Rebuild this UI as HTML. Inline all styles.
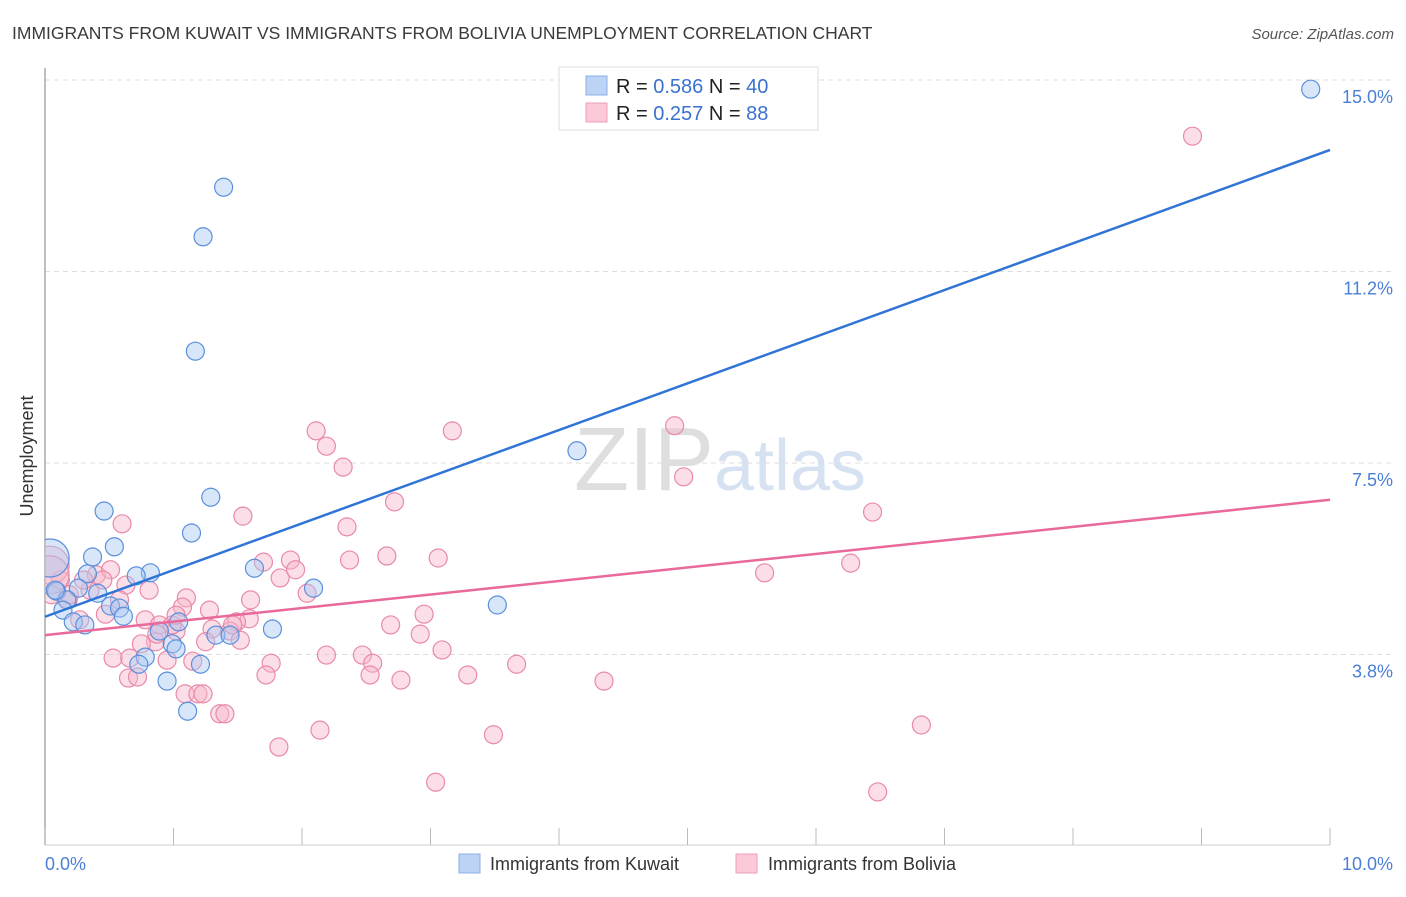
<!DOCTYPE html>
<html><head><meta charset="utf-8"><style>
body{margin:0;background:#fff;font-family:"Liberation Sans",sans-serif;}
svg text{font-family:"Liberation Sans",sans-serif;}
</style></head><body>
<svg id="chart" width="1406" height="892" viewBox="0 0 1406 892" xmlns="http://www.w3.org/2000/svg">
<text x="12" y="39" font-size="17.5" fill="#3a3a3a">IMMIGRANTS FROM KUWAIT VS IMMIGRANTS FROM BOLIVIA UNEMPLOYMENT CORRELATION CHART</text>
<text x="1394" y="39" font-size="15" fill="#555" font-style="italic" text-anchor="end">Source: ZipAtlas.com</text>
<text x="720" y="490" font-size="90" fill="#e8e8e8" text-anchor="middle" font-family="Liberation Serif"><tspan fill="#dedede">ZIP</tspan><tspan fill="#d6e2f2" font-family="Liberation Sans" font-size="72">atlas</tspan></text>
<g id="grid"></g>
<line x1="45" y1="68" x2="45" y2="845" stroke="#aaa" stroke-width="1.5"/>
<line x1="45" y1="845" x2="1330" y2="845" stroke="#ccc" stroke-width="1"/>
<g id="xticks"></g>
<text transform="translate(33,456) rotate(-90)" font-size="18" fill="#333" text-anchor="middle">Unemployment</text>
<text x="45" y="870" font-size="18" fill="#4a7fd6">0.0%</text>
<text x="1393" y="870" font-size="18" fill="#4a7fd6" text-anchor="end">10.0%</text>
<defs><clipPath id="plotclip"><rect x="45" y="60" width="1300" height="785"/></clipPath></defs>
<g id="points" clip-path="url(#plotclip)"></g>
<g id="lines"></g>
<g>
<rect x="559" y="67" width="259" height="63" fill="#fff" stroke="#ddd"/>
<rect x="586" y="76" width="21" height="19" fill="#bcd3f5" stroke="#8ab0e8"/>
<rect x="586" y="103" width="21" height="19" fill="#fbc9d8" stroke="#ee9fb8"/>
<text x="616" y="93" font-size="20" fill="#222">R = <tspan fill="#3a72d0">0.586</tspan>   N = <tspan fill="#3a72d0">40</tspan></text>
<text x="616" y="120" font-size="20" fill="#222">R = <tspan fill="#3a72d0">0.257</tspan>   N = <tspan fill="#3a72d0"> 88</tspan></text>
</g>
<g>
<rect x="459" y="854" width="21" height="19" fill="#bcd3f5" stroke="#8ab0e8"/>
<text x="490" y="870" font-size="18" fill="#333">Immigrants from Kuwait</text>
<rect x="736" y="854" width="21" height="19" fill="#fbc9d8" stroke="#ee9fb8"/>
<text x="768" y="870" font-size="18" fill="#333">Immigrants from Bolivia</text>
</g>
</svg>
<script>
const yTicks=[15.0,11.25,7.5,3.75];
const yTickLabels=["15.0%","11.2%","7.5%","3.8%"];
const xTicks=[0,1,2,3,4,5,6,7,8,9,10];
const kuwaitX=[9.85,1.39,1.23,1.17,4.14,1.29,0.46,1.14,0.54,0.37,1.63,0.82,0.71,0.33,2.09,0.26,0.09,0.41,0.17,3.52,0.51,0.58,0.61,0.14,0.22,0.31,1.04,0.89,1.77,1.33,1.44,0.99,1.02,0.78,0.73,1.21,0.95,1.11,0.04,0.08];
const kuwaitY=[14.82,12.90,11.93,9.69,7.74,6.83,6.56,6.13,5.86,5.66,5.44,5.35,5.29,5.33,5.05,5.05,4.99,4.95,4.82,4.72,4.70,4.66,4.50,4.62,4.39,4.33,4.39,4.21,4.25,4.13,4.13,3.96,3.86,3.70,3.56,3.56,3.23,2.64,5.64,5.01];
const boliviaX=[8.93,4.90,2.11,3.17,2.19,4.97,2.32,2.72,6.44,0.60,1.54,2.35,1.70,1.91,2.37,2.66,3.06,5.60,6.27,0.40,1.83,0.51,0.63,0.81,0.12,0.05,0.18,2.04,1.10,1.07,1.28,0.47,0.27,0.78,2.95,1.59,1.49,2.69,0.89,1.02,1.30,1.44,2.92,0.86,0.75,1.25,0.87,2.19,3.09,2.47,2.55,1.76,3.67,0.53,0.66,0.95,1.15,1.72,2.53,2.77,3.29,4.35,0.65,0.72,1.09,1.19,1.23,1.36,1.40,6.82,2.14,3.49,1.82,3.04,6.48,0.04,0.04,0.19,0.35,0.30,0.45,0.58,1.60,1.46,0.99,1.95,1.52,1.02];
const boliviaY=[13.90,8.23,8.13,8.13,7.83,7.23,7.42,6.74,6.54,6.31,6.46,6.25,5.56,5.60,5.60,5.68,5.64,5.35,5.54,5.31,5.25,5.41,5.11,5.01,5.21,4.92,4.82,4.95,4.86,4.68,4.62,4.54,4.43,4.43,4.54,4.45,4.39,4.33,4.33,4.21,4.25,4.21,4.15,4.00,3.96,4.00,4.15,3.74,3.84,3.74,3.58,3.58,3.56,3.68,3.68,3.64,3.62,3.35,3.35,3.25,3.35,3.23,3.29,3.31,2.98,2.98,2.98,2.59,2.59,2.37,2.27,2.18,1.94,1.25,1.06,5.50,5.31,4.92,5.01,5.21,5.21,4.82,4.82,4.33,4.33,5.41,4.03,4.52];
const kuwaitTrend=[4.49,13.63];
const boliviaTrend=[4.13,6.78];
const NS="http://www.w3.org/2000/svg";
const X=v=>45+v*128.5;
const Y=v=>80+(15-v)*51.07;
const grid=document.getElementById('grid');
yTicks.forEach((t,i)=>{
  const l=document.createElementNS(NS,'line');
  
  
  l.setAttribute('x1',45);l.setAttribute('x2',1393);l.setAttribute('y1',Y(t));l.setAttribute('y2',Y(t));
  l.setAttribute('stroke','#ddd');l.setAttribute('stroke-dasharray','5,4');
  grid.appendChild(l);
  const tx=document.createElementNS(NS,'text');
  
  
  tx.setAttribute('x',1393);tx.setAttribute('y',Y(t)+23);tx.setAttribute('text-anchor','end');
  tx.setAttribute('font-size','18');tx.setAttribute('fill','#4a7fd6');
  tx.textContent=yTickLabels[i];
  grid.appendChild(tx);
});
const xt=document.getElementById('xticks');
xTicks.forEach(t=>{
  const l=document.createElementNS(NS,'line');
  
  
  l.setAttribute('x1',X(t));l.setAttribute('x2',X(t));l.setAttribute('y1',828);l.setAttribute('y2',845);
  l.setAttribute('stroke','#bbb');
  xt.appendChild(l);
});
const pts=document.getElementById('points');
function drawSeries(xs,ys,fill,stroke,name){
  xs.forEach((x,i)=>{
    const c=document.createElementNS(NS,'circle');
    
    
    c.setAttribute('cx',X(x));c.setAttribute('cy',Y(ys[i]));
    c.setAttribute('r',(x<0.05?19:9));
    c.setAttribute('fill',fill);c.setAttribute('fill-opacity','0.45');
    c.setAttribute('stroke',stroke);c.setAttribute('stroke-width','1.2');
    pts.appendChild(c);
  });
}
drawSeries(boliviaX,boliviaY,'#f7b6ca','#e98aa8','bolivia-point');
drawSeries(kuwaitX,kuwaitY,'#a9c8f2','#5b8fdc','kuwait-point');
const lines=document.getElementById('lines');
function trend(tr,color,name){
  const l=document.createElementNS(NS,'line');
  
  
  l.setAttribute('x1',X(0));l.setAttribute('y1',Y(tr[0]));l.setAttribute('x2',X(10));l.setAttribute('y2',Y(tr[1]));
  l.setAttribute('stroke',color);l.setAttribute('stroke-width','2.5');
  lines.appendChild(l);
}
trend(boliviaTrend,'#e8699a','bolivia-trendline');
trend(kuwaitTrend,'#2f74d6','kuwait-trendline');
</script>
</body></html>
